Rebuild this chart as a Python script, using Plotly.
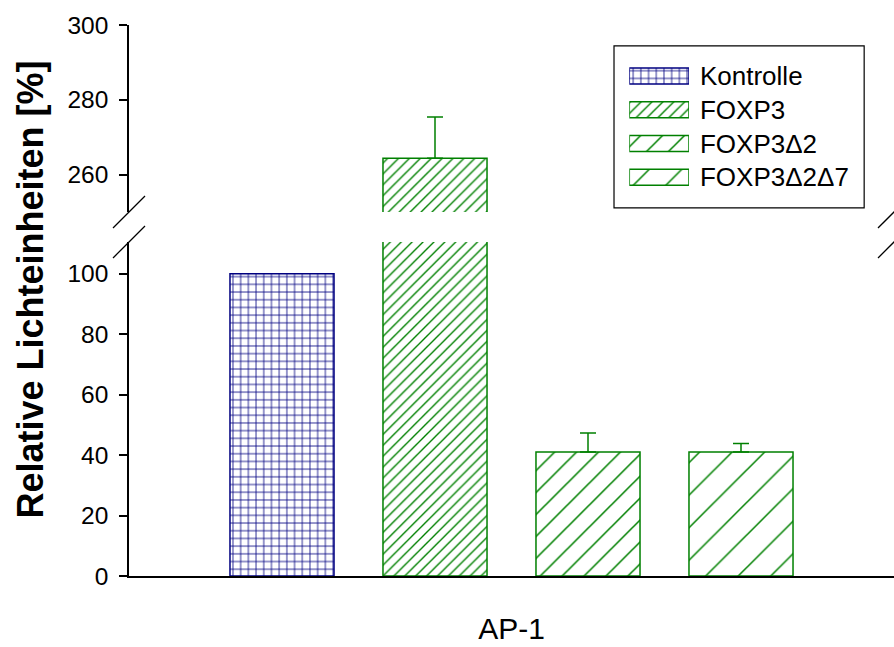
import plotly.graph_objects as go

# ---- data ----
category = ["AP-1"]
series_names = ["Kontrolle", "FOXP3", "FOXP3\u03942", "FOXP3\u03942\u03947"]
series_values = [100.0, 264.4, 41.0, 41.0]
series_errors = [0.0, 11.0, 6.3, 2.8]
lower_ticks = [0, 20, 40, 60, 80, 100]
upper_ticks = [260, 280, 300]
legend_swatch = [1, 1, 1, 1]

# ---- styles ----
GREEN = "#008000"
NAVY = "#000080"
colors = [NAVY, GREEN, GREEN, GREEN]
shapes_p = ["+", "/", "/", "/"]
sizes_p = [7.7, 7.7, 15.5, 23]
solid_p = [0.2, 0.18, 0.1, 0.065]
FONT = "Liberation Sans, Arial, sans-serif"

fig = go.Figure()

for yax in ["y", "y2"]:
    for i, name in enumerate(series_names):
        show_err = (yax == "y2" and i == 1) or (yax == "y" and i in (2, 3))
        fig.add_trace(go.Bar(
            x=category, y=[series_values[i]], name=name,
            xaxis="x", yaxis=yax, showlegend=False,
            marker=dict(color="white",
                        line=dict(color=colors[i], width=1.5),
                        pattern=dict(shape=shapes_p[i], size=sizes_p[i],
                                     solidity=solid_p[i], fgcolor=colors[i],
                                     bgcolor="white", fillmode="replace")),
            error_y=dict(type="data", symmetric=False, array=[series_errors[i]],
                         arrayminus=[0], visible=show_err, color=GREEN,
                         thickness=1.5, width=8),
        ))

# legend swatches drawn as a small horizontal bar subplot
fig.add_trace(go.Bar(
    x=legend_swatch, y=series_names, orientation="h", xaxis="x3", yaxis="y3",
    showlegend=False, width=0.47, hoverinfo="skip",
    marker=dict(color="white",
                line=dict(color=colors, width=1.5),
                pattern=dict(shape=shapes_p, size=sizes_p, solidity=solid_p,
                             fgcolor=colors, bgcolor="white", fillmode="replace")),
))

axis_common = dict(showline=True, linecolor="black", linewidth=1.6, ticks="outside",
                   ticklen=8, tickcolor="black", tickwidth=1.5, showgrid=False,
                   zeroline=False, tickfont=dict(size=24.5, color="black", family=FONT),
                   ticklabelstandoff=6, automargin=False)

fig.update_layout(
    width=894, height=647,
    margin=dict(l=129, r=0, t=25, b=71),
    paper_bgcolor="white", plot_bgcolor="white",
    barmode="group", bargap=0.2, bargroupgap=0.32,
    font=dict(family=FONT, color="black"),
    xaxis=dict(type="category", domain=[0, 1], anchor="y", showline=True,
               linecolor="black", linewidth=1.6, ticks="", showgrid=False,
               tickfont=dict(size=30, color="black", family=FONT),
               ticklabelstandoff=25, automargin=False),
    yaxis=dict(domain=[0, 0.6062], range=[0, 110.5], anchor="x",
               tickvals=lower_ticks, **axis_common),
    yaxis2=dict(domain=[0.6606, 1.0], range=[250, 300], anchor="x",
                tickvals=upper_ticks, **axis_common),
    xaxis3=dict(domain=[0.654, 0.732], range=[0, 1], anchor="y3", visible=False,
                fixedrange=True),
    yaxis3=dict(domain=[0.693, 0.938], anchor="x3", side="right", type="category",
                categoryorder="array", categoryarray=series_names,
                autorange="reversed", showline=False, ticks="", showgrid=False,
                zeroline=False, ticklabelstandoff=10, automargin=False,
                tickfont=dict(size=26, color="black", family=FONT)),
    annotations=[dict(text="<b>Relative Lichteinheiten [%]</b>", xref="paper",
                      yref="paper", x=-0.1294, y=0.52, xanchor="center",
                      yanchor="middle", textangle=-90, showarrow=False,
                      font=dict(size=36, color="black", family=FONT))],
)

shapes = [dict(type="rect", xref="paper", yref="paper", x0=0.634, x1=0.961,
               y0=0.668, y1=0.962, line=dict(color="black", width=1.2),
               fillcolor="rgba(0,0,0,0)", layer="below")]
for xa in [0, 1]:
    for ya in [0.6606, 0.6062]:
        shapes.append(dict(type="line", xref="paper", yref="paper",
                           xsizemode="pixel", ysizemode="pixel",
                           xanchor=xa, yanchor=ya, x0=-16, x1=16, y0=-16, y1=16,
                           line=dict(color="black", width=1.3)))
fig.update_layout(shapes=shapes)

fig.write_html("out.html")
